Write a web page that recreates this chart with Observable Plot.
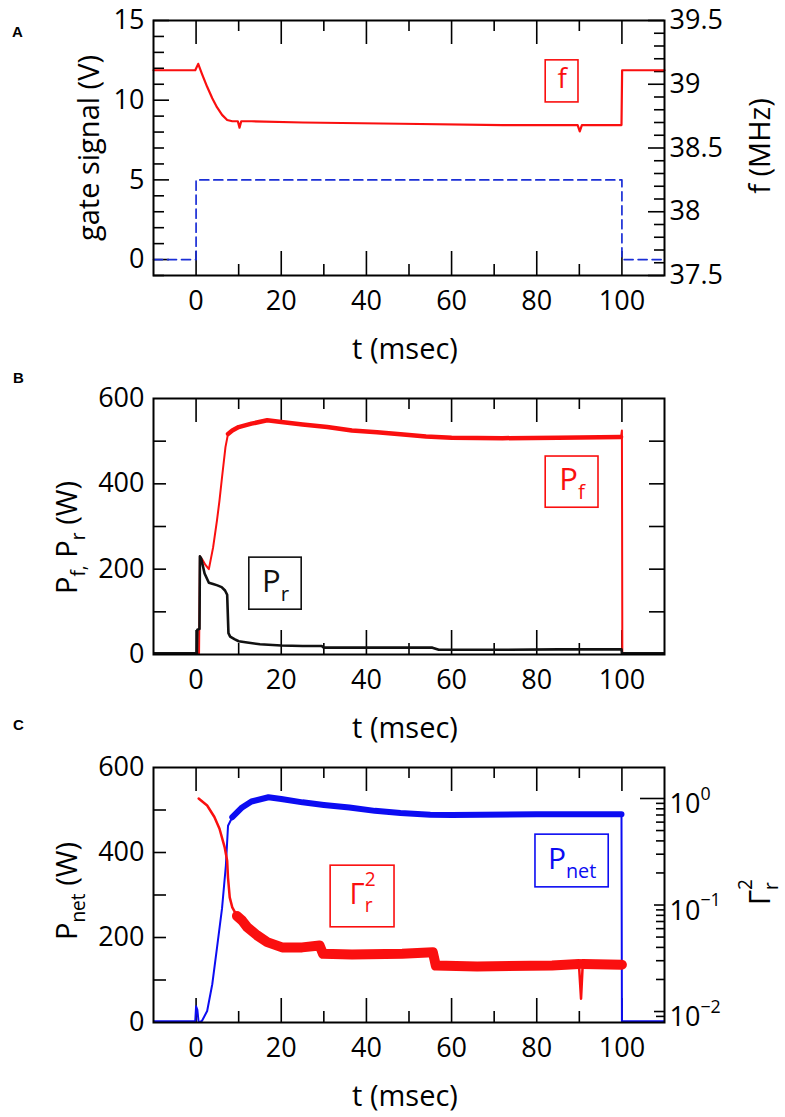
<!DOCTYPE html>
<html><head><meta charset="utf-8">
<script src="https://cdn.jsdelivr.net/npm/d3@7"></script>
<script src="https://cdn.jsdelivr.net/npm/@observablehq/plot@0.6"></script>
<style>
html,body{margin:0;padding:0;background:#fff;}
#chart svg{display:block;overflow:visible;}
#chart text{white-space:pre;}
</style></head><body><div id="chart"></div>
<script>
// ---------- data ----------
// Panel A
const fT    = [-10, -0.2, 0.5, 1.4, 2.6, 3.8, 4.9, 6.1, 7.3, 8.5, 9.8, 10.2, 10.6, 13, 25, 48, 72, 89.6, 90.1, 90.6, 99.9, 100.05, 110];
const fMHz  = [39.11, 39.11, 39.16, 39.08, 38.98, 38.89, 38.82, 38.76, 38.72, 38.71, 38.71, 38.66, 38.71, 38.71, 38.70, 38.69, 38.68, 38.68, 38.63, 38.68, 38.68, 39.11, 39.11];
const gateT = [-10, 0, 0, 100, 100, 110];
const gateV = [0, 0, 5, 5, 0, 0];
// Panel B
const pfT = [-10, 0.7, 0.9, 1.5, 2.2, 3, 4, 4.9, 5.5, 6.1, 6.9, 7.5, 8.5, 10, 13, 16.7, 20, 25, 30.8, 36.6, 42.5, 48, 54, 60, 72, 85, 99.8, 100, 100.1, 110];
const pfV = [3, 3, 230, 222, 210, 200, 251, 314, 361, 416, 486, 517, 525, 533, 541, 549, 545, 539, 533, 525, 521, 516, 511, 508, 507, 508, 510, 525, 3, 3];
const prT = [-10, 0.2, 0.3, 0.8, 0.9, 1.2, 2, 3, 4, 5, 6, 6.8, 7.3, 7.6, 8, 9, 10, 12, 15, 20, 25, 29.5, 30, 40, 50, 55.5, 57, 70, 85, 99.9, 100, 110];
const prV = [3, 3, 58, 60, 230, 225, 190, 168, 165, 162, 158, 150, 140, 50, 42, 36, 31, 28, 24, 21, 20, 20, 16, 16, 16, 16, 11, 11, 12, 12, 3, 3];
// Panel C
const pnT = [-10, -0.2, 0, 0.3, 0.6, 1.4, 2.6, 3.8, 4.9, 6.1, 7, 7.5, 8.5, 10.8, 13, 17, 20, 25, 30, 36, 42, 48, 55, 60, 80, 99.9, 100, 110];
const pnV = [3, 3, 38, 30, 0, 4, 27, 90, 175, 269, 370, 463, 483, 506, 520, 530, 526, 518, 512, 506, 498, 493, 489, 488, 490, 490, 3, 3];
const grT = [0.6, 2.6, 4.3, 5.5, 6.7, 7.3, 7.5, 7.9, 8.5, 9.6, 10.8, 12, 14.3, 16.7, 20.2, 24.9, 29, 29.8, 36.6, 48.4, 55.6, 56.3, 66, 83.6, 89.9, 90.4, 90.8, 100];
const grV = [1.0, 0.86, 0.67, 0.52, 0.35, 0.26, 0.18, 0.118, 0.095, 0.079, 0.0715, 0.062, 0.052, 0.0448, 0.040, 0.040, 0.0417, 0.0348, 0.0343, 0.0348, 0.036, 0.027, 0.0265, 0.027, 0.028, 0.0132, 0.028, 0.0275];

// ticks & labels
const tMajor = [0, 20, 40, 60, 80, 100];
const tMinor = [10, 30, 50, 70, 90];
const gateMajor = [0, 5, 10, 15];
const gateMinor = [-1,1,2,3,4,6,7,8,9,11,12,13,14];
const fTickVals = [37.5, 38, 38.5, 39, 39.5];
const fTickLabels = ["37.5", "38", "38.5", "39", "39.5"];
const fMinorVals = [37.6,37.7,37.8,37.9,38.1,38.2,38.3,38.4,38.6,38.7,38.8,38.9,39.1,39.2,39.3,39.4];
const pTicks = [100, 200, 300, 400, 500];
const pLabels = [0, 200, 400, 600];
const gTickVals = [1, 0.1, 0.01];
const gTickLabels = ["10^{0}", "10^{\u22121}", "10^{\u22122}"];
const gMinorVals = [0.008,0.009,0.02,0.03,0.04,0.05,0.06,0.07,0.08,0.09,0.2,0.3,0.4,0.5,0.6,0.7,0.8,0.9];

// legends (annotation boxes, data coordinates)
const legendA = [{label: "f", t1: 82.1, t2: 89.8, v1: 9.86, v2: 12.5, color: "red", size: 28}];
const legendB = [
  {label: "P_{f}", t1: 82.1, t2: 94.5, v1: 344, v2: 464, color: "red", size: 31},
  {label: "P_{r}", t1: 12.5, t2: 24.8, v1: 105, v2: 227, color: "black", size: 31}
];
const legendC = [
  {label: "P_{net}", t1: 79.7, t2: 96.9, v1: 318, v2: 442, color: "blue", size: 30},
  {label: "\u0393_{r}^{2}", t1: 31.6, t2: 46.6, v1: 224, v2: 369, color: "red", size: 29}
];

// ---------- helpers ----------
const RED = "#fa0f0f", BLUE = "#0c0cf2", DASHBLUE = "#1a2ed6";
const colors = {red: RED, blue: BLUE, black: "#111"};
const W = 785, ML = 153, MR = 121, FW = W - ML - MR;
const FONT = "'Open Sans', 'DejaVu Sans', sans-serif";
const zip = (ts, vs) => ts.map((t, i) => ({t, v: vs[i]}));
const seg = (rows, lo, hi) => rows.filter(d => d.t >= lo && d.t <= hi);

function frameXTicks(fh) {
  return [
    Plot.ruleX(tMajor, {x: d => d, insetTop: fh - 24, stroke: "black", strokeWidth: 1.6}),
    Plot.ruleX(tMinor, {x: d => d, insetTop: fh - 11, stroke: "black", strokeWidth: 1.6}),
    Plot.ruleX(tMajor, {x: d => d, insetBottom: fh - 24, stroke: "black", strokeWidth: 1.6}),
    Plot.ruleX(tMinor, {x: d => d, insetBottom: fh - 11, stroke: "black", strokeWidth: 1.6})
  ];
}
const leftTicks = (vals, len, y = d => d) => Plot.ruleY(vals, {y, insetRight: FW - len, stroke: "black", strokeWidth: 1.6});
const rightTicks = (vals, len, y = d => d) => Plot.ruleY(vals, {y, insetLeft: FW - len, stroke: "black", strokeWidth: 1.6});

function legendMarks(rows) {
  return [
    Plot.rect(rows, {x1: "t1", x2: "t2", y1: "v1", y2: "v2", fill: "none", stroke: d => colors[d.color], strokeWidth: 1.6}),
    ...rows.map(r => Plot.text([r], {x: d => (d.t1 + d.t2) / 2, y: d => (d.v1 + d.v2) / 2, text: "label",
      fill: colors[r.color], fontSize: r.size, textAnchor: "middle", lineAnchor: "middle", dy: -2}))
  ];
}
const baseStyle = {fontFamily: FONT, color: "black", background: "white", overflow: "visible"};
const letter = (s, anchor, dx, dy) => Plot.text([s], {text: d => d, frameAnchor: anchor, dx, dy, fontSize: 15, fontWeight: "bold",
  fontFamily: "'Liberation Sans', Arial, sans-serif", textAnchor: "middle", lineAnchor: "middle"});
const tLabel = () => Plot.text(["t (msec)"], {text: d => d, frameAnchor: "bottom", dy: 74, dx: -4, fontSize: 29, textAnchor: "middle", lineAnchor: "middle"});
const yTitle = (s, anchor, dx, dy) => Plot.text([s], {text: d => d, frameAnchor: anchor, dx, dy, rotate: -90, fontSize: 29, textAnchor: "middle", lineAnchor: "middle"});

// ---------- Panel A ----------
const fToG = f => (f - 37.5) * 8 - 1;
const HA = 365, MTA = 20, MBA = 90, FHA = HA - MTA - MBA;
const plotA = Plot.plot({
  width: W, height: HA, marginLeft: ML, marginRight: MR, marginTop: MTA, marginBottom: MBA,
  style: baseStyle,
  x: {domain: [-10, 110], label: null},
  y: {domain: [-1, 15], label: null},
  marks: [
    ...frameXTicks(FHA),
    leftTicks(gateMajor, 16), leftTicks(gateMinor, 11),
    rightTicks(fTickVals, 16, d => fToG(d)), rightTicks(fMinorVals, 10, d => fToG(d)),
    Plot.line(zip(gateT, gateV), {x: "t", y: "v", stroke: DASHBLUE, strokeWidth: 1.7, strokeDasharray: "9,5"}),
    Plot.line(zip(fT, fMHz), {x: "t", y: d => fToG(d.v), stroke: RED, strokeWidth: 2.2}),
    ...legendMarks(legendA),
    Plot.frame({stroke: "black", strokeWidth: 2}),
    Plot.axisX(tMajor, {anchor: "bottom", tickSize: 0, tickPadding: 15, fontSize: 27, label: null}),
    Plot.axisY(gateMajor, {anchor: "left", tickSize: 0, tickPadding: 9, fontSize: 27, label: null}),
    Plot.axisY(fTickVals.map(fToG), {anchor: "right", tickSize: 0, tickPadding: 5, fontSize: 27, label: null,
      tickFormat: d => fTickLabels[fTickVals.map(fToG).indexOf(d)]}),
    yTitle("gate signal (V)", "left", -64, 0),
    yTitle("f (MHz)", "right", 96, -2),
    tLabel(),
    letter("A", "top-left", -136, 12)
  ]
});

// ---------- Panel B ----------
const HB = 385, MTB = 33, MBB = 96, FHB = HB - MTB - MBB;
const pfRows = zip(pfT, pfV), prRows = zip(prT, prV);
const plotB = Plot.plot({
  width: W, height: HB, marginLeft: ML, marginRight: MR, marginTop: MTB, marginBottom: MBB,
  style: baseStyle,
  x: {domain: [-10, 110], label: null},
  y: {domain: [0, 600], label: null},
  marks: [
    ...frameXTicks(FHB),
    leftTicks(pTicks, 13), rightTicks(pTicks, 15),
    Plot.line(seg(pfRows, -10, 7.5), {x: "t", y: "v", stroke: RED, strokeWidth: 2, clip: true}),
    Plot.line(seg(pfRows, 7.5, 99.8), {x: "t", y: "v", stroke: RED, strokeWidth: 4.5, strokeLinejoin: "round", clip: true}),
    Plot.line(seg(pfRows, 99.8, 110), {x: "t", y: "v", stroke: RED, strokeWidth: 2, clip: true}),
    Plot.line(prRows, {x: "t", y: "v", stroke: "#111", strokeWidth: 2.6, strokeLinejoin: "round", clip: true}),
    ...legendMarks(legendB),
    Plot.frame({stroke: "black", strokeWidth: 2}),
    Plot.axisX(tMajor, {anchor: "bottom", tickSize: 0, tickPadding: 15, fontSize: 27, label: null}),
    Plot.axisY(pLabels, {anchor: "left", tickSize: 0, tickPadding: 9, fontSize: 27, label: null}),
    yTitle("P_{f,} P_{r} (W)", "left", -86, 11),
    tLabel(),
    letter("B", "top-left", -135, -20),
    letter("C", "bottom-left", -135, 71)
  ]
});

// ---------- Panel C ----------
const HC = 367, MTC = 17, MBC = 95, FHC = HC - MTC - MBC;
const gLo = -2.103, gHi = 0.291;
const gToP = g => (Math.log10(g) - gLo) / (gHi - gLo) * 600;
const pnRows = zip(pnT, pnV), grRows = zip(grT, grV);
const plotC = Plot.plot({
  width: W, height: HC, marginLeft: ML, marginRight: MR, marginTop: MTC, marginBottom: MBC,
  style: baseStyle,
  x: {domain: [-10, 110], label: null},
  y: {domain: [0, 600], label: null},
  marks: [
    ...frameXTicks(FHC),
    leftTicks(pTicks, 13),
    rightTicks([1], 24, d => gToP(d)), rightTicks([0.1, 0.01], 10, d => gToP(d)), rightTicks(gMinorVals, 8, d => gToP(d)),
    Plot.line(seg(pnRows, -10, 8.5), {x: "t", y: "v", stroke: BLUE, strokeWidth: 2, clip: true}),
    Plot.line(seg(pnRows, 8.5, 99.9), {x: "t", y: "v", stroke: BLUE, strokeWidth: 6, strokeLinejoin: "round", clip: true}),
    Plot.line(seg(pnRows, 99.9, 110), {x: "t", y: "v", stroke: BLUE, strokeWidth: 2, clip: true}),
    Plot.line(seg(grRows, 0, 9.6), {x: "t", y: d => gToP(d.v), stroke: RED, strokeWidth: 2.5, clip: true}),
    Plot.line(seg(grRows, 9.6, 89.9), {x: "t", y: d => gToP(d.v), stroke: RED, strokeWidth: 10, strokeLinejoin: "round", clip: true}),
    Plot.line(seg(grRows, 89.9, 90.8), {x: "t", y: d => gToP(d.v), stroke: RED, strokeWidth: 2.5, clip: true}),
    Plot.line(seg(grRows, 90.8, 110), {x: "t", y: d => gToP(d.v), stroke: RED, strokeWidth: 10, strokeLinejoin: "round", clip: true}),
    ...legendMarks(legendC),
    Plot.frame({stroke: "black", strokeWidth: 2}),
    Plot.axisX(tMajor, {anchor: "bottom", tickSize: 0, tickPadding: 15, fontSize: 27, label: null}),
    Plot.axisY(pLabels, {anchor: "left", tickSize: 0, tickPadding: 9, fontSize: 27, label: null}),
    Plot.axisY(gTickVals.map(gToP), {anchor: "right", tickSize: 0, tickPadding: 5, fontSize: 27, label: null, dy: 6,
      tickFormat: d => gTickLabels[gTickVals.map(gToP).indexOf(d)]}),
    yTitle("P_{net} (W)", "left", -86, -4),
    yTitle("\u0393_{r}^{2}", "right", 96, -3),
    tLabel()
  ]
});

const chart = document.getElementById("chart");
chart.append(plotA, plotB, plotC);

// ---------- rich text: sub/superscripts as tspans ----------
function richify(root) {
  const NS = "http://www.w3.org/2000/svg";
  const els = [...root.querySelectorAll("text, tspan")].filter(e => e.children.length === 0 && /[_^]\{/.test(e.textContent));
  for (const el of els) {
    const s = el.textContent;
    const fs = parseFloat(getComputedStyle(el).fontSize) || 16;
    el.textContent = "";
    const toks = s.match(/_\{[^}]*\}|\^\{[^}]*\}|[^_^]+/g);
    let shift = 0, prev = "n", prevW = 0;
    for (const tk of toks) {
      const ts = document.createElementNS(NS, "tspan");
      const isSub = tk.startsWith("_{"), isSup = tk.startsWith("^{");
      const txt = (isSub || isSup) ? tk.slice(2, -1) : tk;
      const target = isSub ? 0.3 * fs : isSup ? (prev === "sub" ? -0.6 : -0.5) * fs : 0;
      ts.textContent = txt;
      if (isSub || isSup) ts.setAttribute("font-size", (0.66 * fs).toFixed(1));
      ts.setAttribute("dy", (target - shift).toFixed(2));
      if (isSup && prev === "sub") ts.setAttribute("dx", (-prevW).toFixed(2));
      el.appendChild(ts);
      shift = target;
      prev = isSub ? "sub" : isSup ? "sup" : "n";
      prevW = ts.getComputedTextLength();
    }
  }
}
richify(chart);
</script></body></html>
